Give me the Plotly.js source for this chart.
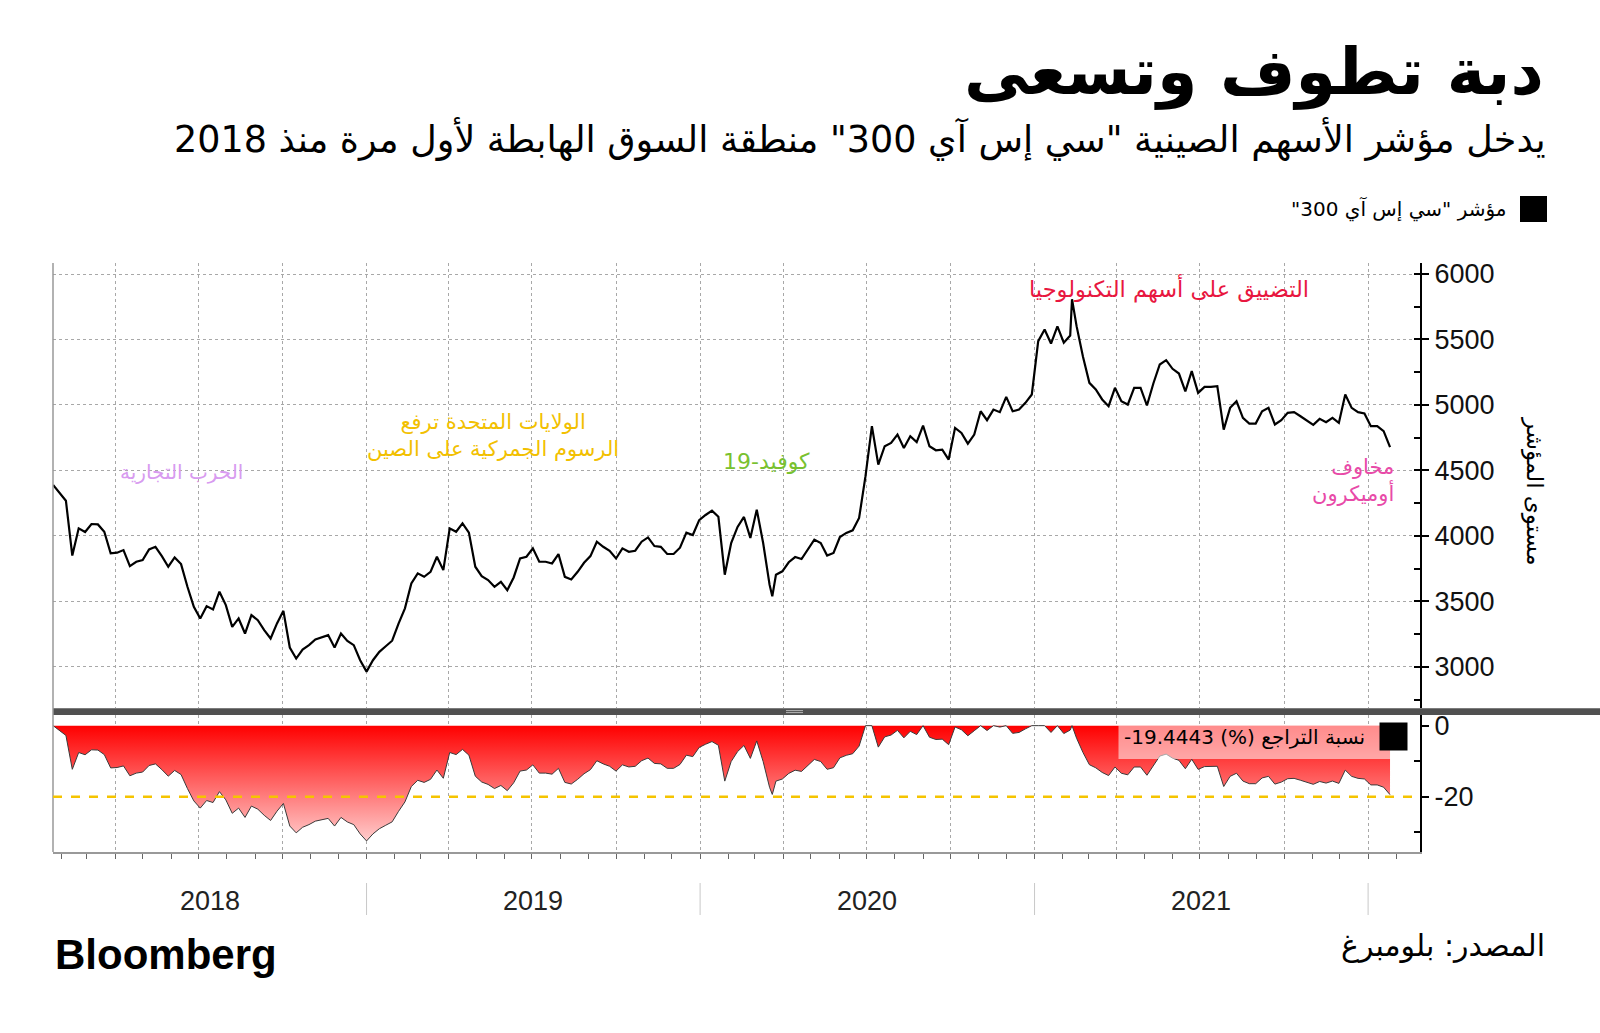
<!DOCTYPE html>
<html><head><meta charset="utf-8">
<script src="https://cdn.plot.ly/plotly-3.0.1.min.js"></script>
<style>html,body{margin:0;padding:0;background:#fff;}#chart{width:1600px;height:1033px;}</style>
</head><body><div id="chart"></div>
<script>
// ---------- DATA ----------
const dates = [
"2018-01-23","2018-01-30","2018-02-06","2018-02-13","2018-02-20","2018-02-27","2018-03-06","2018-03-13","2018-03-20","2018-03-27",
"2018-04-03","2018-04-10","2018-04-17","2018-04-24","2018-05-01","2018-05-08","2018-05-15","2018-05-22","2018-05-29","2018-06-05",
"2018-06-12","2018-06-19","2018-06-26","2018-07-03","2018-07-10","2018-07-17","2018-07-24","2018-07-31","2018-08-07","2018-08-14",
"2018-08-21","2018-08-28","2018-09-04","2018-09-11","2018-09-18","2018-09-25","2018-10-02","2018-10-09","2018-10-16","2018-10-23",
"2018-10-30","2018-11-06","2018-11-13","2018-11-20","2018-11-27","2018-12-04","2018-12-11","2018-12-18","2018-12-25",
"2019-01-01","2019-01-08","2019-01-15","2019-01-22","2019-01-29","2019-02-05","2019-02-12","2019-02-19","2019-02-26","2019-03-05",
"2019-03-12","2019-03-19","2019-03-26","2019-04-02","2019-04-09","2019-04-16","2019-04-23","2019-04-30","2019-05-07","2019-05-14",
"2019-05-21","2019-05-28","2019-06-04","2019-06-11","2019-06-18","2019-06-25","2019-07-02","2019-07-09","2019-07-16","2019-07-23",
"2019-07-30","2019-08-06","2019-08-13","2019-08-20","2019-08-27","2019-09-03","2019-09-10","2019-09-17","2019-09-24","2019-10-01",
"2019-10-08","2019-10-15","2019-10-22","2019-10-29","2019-11-05","2019-11-12","2019-11-19","2019-11-26","2019-12-03","2019-12-10",
"2019-12-17","2019-12-24","2019-12-31",
"2020-01-07","2020-01-14","2020-01-21","2020-01-28","2020-02-04","2020-02-11","2020-02-18","2020-02-25","2020-03-03","2020-03-10",
"2020-03-17","2020-03-20","2020-03-24","2020-03-31","2020-04-07","2020-04-14","2020-04-21","2020-04-28","2020-05-05","2020-05-12",
"2020-05-19","2020-05-26","2020-06-02","2020-06-09","2020-06-16","2020-06-23","2020-06-30","2020-07-07","2020-07-14","2020-07-21",
"2020-07-28","2020-08-04","2020-08-11","2020-08-18","2020-08-25","2020-09-01","2020-09-08","2020-09-15","2020-09-22","2020-09-29",
"2020-10-06","2020-10-13","2020-10-20","2020-10-27","2020-11-03","2020-11-10","2020-11-17","2020-11-24","2020-12-01","2020-12-08",
"2020-12-15","2020-12-22","2020-12-29",
"2021-01-05","2021-01-12","2021-01-19","2021-01-26","2021-02-02","2021-02-09","2021-02-11","2021-02-16","2021-02-23","2021-03-02",
"2021-03-09","2021-03-16","2021-03-23","2021-03-30","2021-04-06","2021-04-13","2021-04-20","2021-04-27","2021-05-04","2021-05-11",
"2021-05-18","2021-05-25","2021-06-01","2021-06-08","2021-06-15","2021-06-22","2021-06-29","2021-07-06","2021-07-13","2021-07-20",
"2021-07-27","2021-08-03","2021-08-10","2021-08-17","2021-08-24","2021-08-31","2021-09-07","2021-09-14","2021-09-21","2021-09-28",
"2021-10-05","2021-10-12","2021-10-19","2021-10-26","2021-11-02","2021-11-09","2021-11-16","2021-11-23","2021-11-30","2021-12-07",
"2021-12-14","2021-12-21","2021-12-28",
"2022-01-04","2022-01-11","2022-01-18","2022-01-25"
];
const csi300 = [
4390,4325,4269,3850,4058,4030,4091,4088,4032,3867,
3872,3892,3770,3803,3816,3897,3917,3846,3765,3836,
3785,3612,3459,3370,3464,3439,3574,3472,3306,3370,
3255,3395,3357,3281,3217,3332,3428,3148,3064,3133,
3166,3209,3225,3243,3148,3255,3199,3166,3051,
2964,3051,3115,3158,3200,3330,3447,3637,3714,3688,
3726,3841,3739,4058,4032,4096,4025,3765,3693,3663,
3612,3650,3586,3683,3828,3841,3905,3803,3803,3790,
3862,3688,3668,3726,3795,3846,3956,3917,3887,3828,
3905,3879,3887,3956,3989,3923,3917,3862,3862,3910,
4025,4007,4121,
4160,4193,4147,3704,3946,4069,4145,3985,4201,3946,
3628,3539,3704,3730,3799,3839,3824,3900,3972,3946,
3850,3870,3992,4023,4043,4137,4456,4838,4545,4685,
4710,4774,4672,4761,4716,4843,4685,4654,4659,4583,
4825,4787,4705,4774,4952,4884,4965,4945,5062,4952,
4965,5016,5080,
5487,5576,5469,5600,5475,5530,5807.72,5602,5368,5169,
5118,5042,4991,5131,5029,5003,5131,5131,4996,5164,
5309,5342,5276,5240,5103,5258,5092,5138,5138,5143,
4812,4978,5029,4901,4858,4858,4952,4978,4851,4884,
4940,4945,4914,4884,4848,4894,4868,4901,4863,5080,
4978,4945,4935,
4838,4838,4800,4678.45
];
const yearLabels = ["2018","2019","2020","2021"];
const priceTickStep = 500;
const drawdownTickVals = [0, -20];
const drawdownTickText = ["0", "-20"];
const bearThreshold = -20;

// texts
const T_TITLE = "دبة تطوف وتسعى";
const T_SUB = "يدخل مؤشر الأسهم الصينية \"سي إس آي 300\" منطقة السوق الهابطة لأول مرة منذ 2018";
const T_LEG = "مؤشر \"سي إس آي 300\"";
const T_YTITLE = "مستوى المؤشر";
const T_DD = "(%) نسبة التراجع";
const T_SRC = "المصدر: بلومبرغ";
const EV_TRADE = "الحرب التجارية";
const EV_TARIFF = ["الولايات المتحدة ترفع", "الرسوم الجمركية على الصين"];
const EV_COVID = "كوفيد-19";
const EV_TECH = "التضييق على أسهم التكنولوجيا";
const EV_OMICRON = ["مخاوف", "أوميكرون"];

// ---------- derived: drawdown from running peak ----------
let peak = -Infinity;
const drawdown = csi300.map(v => { peak = Math.max(peak, v); return (v / peak - 1) * 100; });
const lastDD = drawdown[drawdown.length - 1];

// ---------- layout geometry ----------
const PL = 53, PR = 1420, PT = 263, PB = 852;
const W = PR - PL, H = PB - PT;
const px2x = px => (px - PL) / W;
const py2y = py => (PB - py) / H;
const RLM = "\u200F";
const AR = "DejaVu Sans, Noto Sans, sans-serif";
const NUM = "Liberation Sans, Arial, sans-serif";

const xStart = "2018-01-22 21:00", xEnd = "2022-02-26 19:00";

function ann(text, px, py, o) {
  return Object.assign({
    text: text, x: px2x(px), y: py2y(py), xref: "paper", yref: "paper",
    showarrow: false, xanchor: "center", yanchor: "middle",
    font: {family: AR, size: 20, color: "#000"}
  }, o || {});
}

const annotations = [
  ann(RLM + T_TITLE + RLM, 1546, 72, {xanchor: "right", font: {family: AR, size: 65, color: "#000", weight: "bold"}}),
  ann(RLM + T_SUB + RLM, 1548, 139, {xanchor: "right", font: {family: AR, size: 36.5, color: "#000"}}),
  ann(RLM + T_LEG + RLM, 1508, 209, {xanchor: "right", font: {family: AR, size: 20, color: "#000"}}),
  ann(RLM + T_YTITLE + RLM, 1535, 491, {textangle: 90, font: {family: AR, size: 23, color: "#000"}}),
  ann(EV_TRADE, 181, 472, {font: {family: AR, size: 20, color: "#d89bf0"}}),
  ann(EV_TARIFF.join("<br>"), 493, 435, {font: {family: AR, size: 21, color: "#f2c000"}}),
  ann(EV_COVID, 766, 461, {font: {family: AR, size: 22, color: "#79c12f"}}),
  ann(EV_TECH, 1169, 288, {font: {family: AR, size: 22.5, color: "#e8173f"}}),
  ann(EV_OMICRON.join("<br>"), 1396, 480, {xanchor: "right", align: "right", font: {family: AR, size: 21, color: "#e84aa8"}}),
  ann(lastDD.toFixed(4) + " " + T_DD, 1367, 737, {xanchor: "right", font: {family: AR, size: 20, color: "#000"}}),
  ann("Bloomberg", 53, 954, {xanchor: "left", font: {family: NUM, size: 42, color: "#000", weight: "bold"}}),
  ann(RLM + T_SRC + RLM, 1547, 945, {xanchor: "right", font: {family: AR, size: 30, color: "#000"}})
];

// year labels centred in the visible part of each year
const rangeStartMs = new Date(xStart.replace(" ", "T") + ":00Z").getTime();
yearLabels.forEach(y => {
  const a = Math.max(Date.UTC(+y, 0, 1), rangeStartMs);
  const b = Date.UTC(+y + 1, 0, 1);
  const mid = new Date((a + b) / 2).toISOString().slice(0, 19).replace("T", " ");
  annotations.push({text: y, x: mid, xref: "x", y: py2y(901), yref: "paper", showarrow: false,
    xanchor: "center", yanchor: "middle", font: {family: NUM, size: 27, color: "#222"}});
});

const shapes = [
  // separator band between the two panels
  {type: "rect", xref: "paper", yref: "paper", x0: 0, x1: px2x(1600), y0: py2y(715), y1: py2y(708.3),
   fillcolor: "#505050", line: {width: 0}},
  {type: "line", xref: "paper", yref: "paper", x0: px2x(786), x1: px2x(803), y0: py2y(710.6), y1: py2y(710.6), line: {color: "#b5b5b5", width: 1}},
  {type: "line", xref: "paper", yref: "paper", x0: px2x(786), x1: px2x(803), y0: py2y(712.6), y1: py2y(712.6), line: {color: "#b5b5b5", width: 1}},
  // left frame
  {type: "line", xref: "paper", yref: "paper", x0: 0, x1: 0, y0: 0, y1: 1, line: {color: "#999", width: 1.5}},
  // bear-market threshold
  {type: "line", xref: "paper", yref: "y2", x0: 0, x1: 1, y0: bearThreshold, y1: bearThreshold,
   line: {color: "#f5c400", width: 2.5, dash: "dash"}},
  // lower legend box and square
  {type: "rect", xref: "paper", yref: "paper", x0: px2x(1118.5), x1: px2x(1391.5), y0: py2y(759), y1: py2y(725.5),
   fillcolor: "rgba(255,255,255,0.55)", line: {width: 0}},
  {type: "rect", xref: "paper", yref: "paper", x0: px2x(1379.5), x1: px2x(1407.5), y0: py2y(750.5), y1: py2y(722.5),
   fillcolor: "#000", line: {width: 0}},
  // top legend square
  {type: "rect", xref: "paper", yref: "paper", x0: px2x(1520), x1: px2x(1547), y0: py2y(222), y1: py2y(196),
   fillcolor: "#000", line: {width: 0}}
];
// year separators below the axis
yearLabels.slice(1).concat([String(+yearLabels[yearLabels.length - 1] + 1)]).forEach(y => {
  shapes.push({type: "line", xref: "x", yref: "paper", x0: y + "-01-01", x1: y + "-01-01",
    y0: py2y(915), y1: py2y(883), line: {color: "#c8c8c8", width: 1}});
});

const traces = [
  {x: dates, y: csi300, type: "scatter", mode: "lines", xaxis: "x", yaxis: "y",
   line: {color: "#000", width: 2.2}, hoverinfo: "skip"},
  {x: dates, y: drawdown, type: "scatter", mode: "lines", xaxis: "x", yaxis: "y2",
   fill: "tozeroy", fillgradient: {type: "vertical", start: -36, stop: 0,
     colorscale: [[0, "#ffe2e2"], [1, "#ff0000"]]},
   line: {color: "#3a3a3a", width: 1}, hoverinfo: "skip"}
];

const layout = {
  width: 1600, height: 1033,
  margin: {l: PL, r: 1600 - PR, t: PT, b: 1033 - PB, pad: 0},
  paper_bgcolor: "#fff", plot_bgcolor: "#fff",
  showlegend: false,
  xaxis: {type: "date", anchor: "y2", range: [xStart, xEnd], showticklabels: false,
    tick0: "2018-01-01", dtick: "M3", ticks: "outside", ticklen: 5, tickcolor: "#666",
    showgrid: true, gridcolor: "#a8a8a8", griddash: "dot", gridwidth: 1,
    minor: {dtick: "M1", ticks: "outside", ticklen: 5, tickcolor: "#666", showgrid: false},
    showline: true, linecolor: "#999", linewidth: 1.5, zeroline: false},
  yaxis: {domain: [py2y(708.3), 1], side: "right", anchor: "x", range: [2684, 6084],
    tick0: 0, dtick: priceTickStep, ticks: "outside", ticklen: 7, tickwidth: 2, tickcolor: "#000",
    minor: {dtick: priceTickStep / 2, ticks: "inside", ticklen: 6, tickcolor: "#000", showgrid: false},
    showgrid: true, gridcolor: "#a8a8a8", griddash: "dot", gridwidth: 1,
    showline: true, linecolor: "#000", linewidth: 2, zeroline: false,
    tickfont: {family: NUM, size: 27, color: "#111"}},
  yaxis2: {domain: [0, py2y(715)], side: "right", anchor: "x", range: [-35.6, 3.0],
    tickvals: drawdownTickVals, ticktext: drawdownTickText,
    ticks: "outside", ticklen: 7, tickwidth: 2, tickcolor: "#000",
    minor: {tickvals: [-10, -30], ticks: "inside", ticklen: 6, tickcolor: "#000", showgrid: false},
    showgrid: false, showline: true, linecolor: "#000", linewidth: 2, zeroline: false,
    tickfont: {family: NUM, size: 27, color: "#111"}},
  annotations: annotations,
  shapes: shapes
};

Plotly.newPlot("chart", traces, layout, {staticPlot: true, displayModeBar: false});
</script>
</body></html>
